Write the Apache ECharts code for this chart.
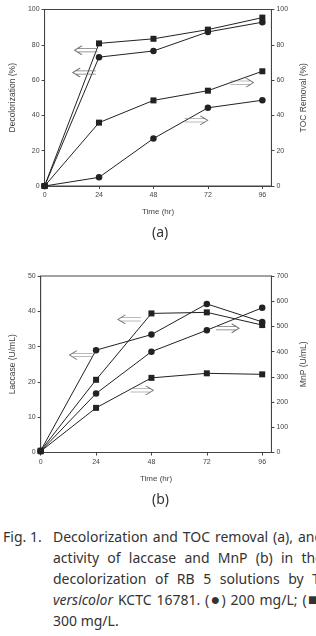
<!DOCTYPE html>
<html><head><meta charset="utf-8">
<script src="https://cdn.jsdelivr.net/npm/echarts@6/dist/echarts.min.js"></script>
<style>
html,body{margin:0;padding:0;background:#fff;overflow:hidden;width:316px;height:636px;}
#chart{position:absolute;left:0;top:0;width:316px;height:520px;}
#cap{position:absolute;left:3px;top:526px;width:320px;font-family:"Noto Sans",sans-serif;font-size:14px;line-height:21px;color:#333;white-space:nowrap;}
#cap .ln{text-align:justify;text-align-last:justify;padding-left:50px;white-space:normal;}
#cap .ln1{padding-left:0;}
#cap .last{text-align:left;text-align-last:left;}
#cap .lab{display:inline-block;width:50px;text-align-last:left;}
#cap .big{font-size:16px;line-height:14px;}
</style></head>
<body>
<div id="chart"></div>
<div id="cap">
<div class="ln ln1"><span class="lab">Fig. 1.</span>Decolorization and TOC removal (a), and</div>
<div class="ln">activity of laccase and MnP (b) in the</div>
<div class="ln">decolorization of RB 5 solutions by T.</div>
<div class="ln"><i>versicolor</i> KCTC 16781. (<span class="big">●</span>) 200 mg/L; (<span class="big">■</span>)</div>
<div class="ln last">300 mg/L.</div>
</div>
<script>
// ---- data ----
const timeHr = [0, 24, 48, 72, 96];
const xTicks = [0, 24, 48, 72, 96];
const decol200 = [0, 73, 76.5, 87.3, 92.8];
const decol300 = [0, 80.8, 83.4, 88.6, 95.4];
const toc200 = [0, 4.9, 26.9, 44.3, 48.6];
const toc300 = [0, 35.9, 48.5, 54.0, 65.0];
const laccase200 = [0.5, 29.0, 33.4, 42.1, 37.0];
const laccase300 = [0.5, 20.6, 39.4, 39.7, 36.1];
const mnp200 = [5, 234, 400, 485, 574];
const mnp300 = [5, 177, 296, 314, 310];
// arrow annotations [x, y(left axis), direction]
const arrowsA = [[18.3, 76.9, 'left'], [17.5, 64.3, 'left'], [87, 58.6, 'right'], [66.8, 37.2, 'right']];
const arrowsB = [[17.5, 27.6, 'left'], [38.5, 37.7, 'left'], [81, 35.2, 'right'], [43.8, 17.6, 'right']];

const pair = (ys) => timeHr.map((t, i) => [t, ys[i]]);
const C = '#222';
const TXT = '#444';
const FONT = '"Liberation Sans", Arial, sans-serif';
const arrowPath = 'path://M7,0 L0,5 L7,10 M2.8,3.2 L22,3.2 M2.8,6.8 L22,6.8';
function arrowMarks(arr) {
  return {
    symbol: arrowPath,
    symbolSize: [23, 9],
    silent: true,
    itemStyle: { color: 'rgba(255,255,255,0)', borderColor: '#777', borderWidth: 1 },
    label: { show: false },
    data: arr.map(a => ({ coord: [a[0], a[1]], symbolRotate: a[2] === 'left' ? 0 : 180 }))
  };
}
function xAx(gi) {
  return {
    type: 'value', gridIndex: gi, min: 0, max: 100,
    name: 'Time (hr)', nameLocation: 'middle', nameGap: 22,
    nameTextStyle: { color: TXT, fontSize: 8, fontFamily: FONT },
    axisLine: { lineStyle: { color: '#444', width: 1 } },
    axisTick: { customValues: xTicks, length: 3, lineStyle: { color: '#444' } },
    axisLabel: { customValues: xTicks, color: TXT, fontSize: 7, fontFamily: FONT, margin: 6 },
    splitLine: { show: false }
  };
}
function yAx(gi, pos, max, interval, name, gap) {
  return {
    type: 'value', gridIndex: gi, position: pos, min: 0, max: max, interval: interval,
    name: name, nameLocation: 'middle', nameGap: gap, nameRotate: 90,
    nameTextStyle: { color: TXT, fontSize: 8.5, fontFamily: FONT },
    axisLine: { show: true, onZero: false, lineStyle: { color: '#444', width: 1 } },
    axisTick: { show: true, length: 3, lineStyle: { color: '#444' } },
    axisLabel: { color: TXT, fontSize: 7, fontFamily: FONT, margin: 5 },
    splitLine: { show: false }
  };
}
function ser(name, xi, yi, data, sym, marks) {
  const s = {
    name: name, type: 'line', xAxisIndex: xi, yAxisIndex: yi, data: pair(data),
    symbol: sym, symbolSize: sym === 'circle' ? 6.5 : 6, showSymbol: true,
    lineStyle: { color: C, width: 1 }, itemStyle: { color: C }, animation: false, z: 3
  };
  if (marks) s.markPoint = marks;
  return s;
}
const chart = echarts.init(document.getElementById('chart'), null, { renderer: 'canvas' });
chart.setOption({
  animation: false,
  backgroundColor: '#fff',
  grid: [
    { left: 36, top: 9.5, width: 244, height: 176.5, show: true, borderColor: '#444', borderWidth: 1 },
    { left: 32, top: 276, width: 247, height: 176.5, show: true, borderColor: '#444', borderWidth: 1 }
  ],
  xAxis: [xAx(0), xAx(1)],
  yAxis: [
    yAx(0, 'left', 100, 20, 'Decolorization (%)', 24),
    yAx(0, 'right', 100, 20, 'TOC Removal (%)', 25),
    yAx(1, 'left', 50, 10, 'Laccase (U/mL)', 21),
    yAx(1, 'right', 700, 100, 'MnP (U/mL)', 27)
  ],
  graphic: [
    { type: 'text', left: 152, top: 226, style: { text: '(a)', font: '14px "Noto Sans", sans-serif', fill: '#333' } },
    { type: 'text', left: 152, top: 493, style: { text: '(b)', font: '14px "Noto Sans", sans-serif', fill: '#333' } }
  ],
  series: [
    ser('Decolorization 200', 0, 0, decol200, 'circle', arrowMarks(arrowsA)),
    ser('Decolorization 300', 0, 0, decol300, 'rect'),
    ser('TOC 200', 0, 1, toc200, 'circle'),
    ser('TOC 300', 0, 1, toc300, 'rect'),
    ser('Laccase 200', 1, 2, laccase200, 'circle', arrowMarks(arrowsB)),
    ser('Laccase 300', 1, 2, laccase300, 'rect'),
    ser('MnP 200', 1, 3, mnp200, 'circle'),
    ser('MnP 300', 1, 3, mnp300, 'rect')
  ]
});
</script>
</body></html>
